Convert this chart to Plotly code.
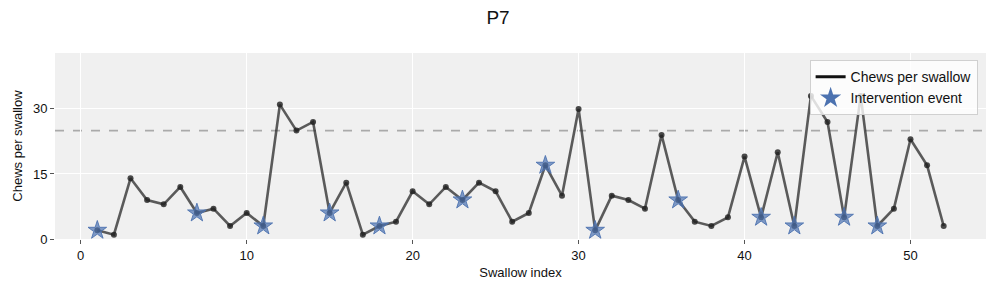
import plotly.graph_objects as go

swallow_index = list(range(1, 53))
chews = [2, 1, 14, 9, 8, 12, 6, 7, 3, 6,
         3, 31, 25, 27, 6, 13, 1, 3, 4, 11,
         8, 12, 9, 13, 11, 4, 6, 17, 10, 30,
         2, 10, 9, 7, 24, 9, 4, 3, 5, 19,
         5, 20, 3, 33, 27, 5, 33, 3, 7, 23,
         17, 3]
intervention_index = [1, 7, 11, 15, 18, 23, 28, 31, 36, 41, 43, 46, 48]
threshold = 25
x_ticks = [0, 10, 20, 30, 40, 50]
y_ticks = [0, 15, 30]

int_vals = [chews[swallow_index.index(i)] for i in intervention_index]

fig = go.Figure()
fig.add_trace(go.Scatter(
    x=swallow_index, y=chews, mode="lines",
    line=dict(color="rgba(40,40,40,0.75)", width=2.6),
    showlegend=False))
fig.add_trace(go.Scatter(
    x=swallow_index, y=chews, mode="markers",
    marker=dict(color="rgba(30,30,30,0.8)", size=6),
    showlegend=False, hoverinfo="skip"))
fig.add_trace(go.Scatter(
    x=intervention_index, y=int_vals, mode="markers",
    marker=dict(symbol="star", size=14, color="rgba(76,114,176,0.7)",
                line=dict(color="rgba(76,114,176,0.9)", width=1)),
    showlegend=False))
# legend entries (opaque, as in the reference legend)
fig.add_trace(go.Scatter(
    x=[None], y=[None], mode="lines",
    line=dict(color="#111111", width=3), name="Chews per swallow"))
fig.add_trace(go.Scatter(
    x=[None], y=[None], mode="markers",
    marker=dict(symbol="star", size=16, color="#4c72b0", line=dict(width=0)),
    name="Intervention event"))

fig.add_shape(type="line", xref="paper", x0=0, x1=1, yref="y", y0=threshold, y1=threshold,
              line=dict(color="#aaaaaa", width=1.6, dash="dash"), layer="below")

fig.update_layout(
    width=996, height=291,
    margin=dict(l=55, r=10, t=53, b=52, autoexpand=False),
    paper_bgcolor="white", plot_bgcolor="#f0f0f0",
    font=dict(family="Liberation Sans, Arial, sans-serif", size=13, color="#111"),
    title=dict(text="P7", x=0.5, xanchor="center", y=0.94, yanchor="middle",
               yref="container", font=dict(size=19, color="#111")),
    legend=dict(x=0.991, y=0.962, xanchor="right", yanchor="top",
                bgcolor="rgba(255,255,255,0.8)", bordercolor="#d0d0d0", borderwidth=1,
                font=dict(size=14), tracegroupgap=0, itemwidth=30),
    showlegend=True,
)
fig.update_xaxes(range=[-1.55, 54.55], tickvals=x_ticks, ticks="outside", ticklen=4,
                 tickcolor="#555", gridcolor="white", gridwidth=1, zeroline=False,
                 showline=False, automargin=False,
                 title=dict(text="Swallow index", standoff=6, font=dict(size=13)))
fig.update_yaxes(range=[0, 42.9], tickvals=y_ticks, ticks="outside", ticklen=4,
                 tickcolor="#555", gridcolor="white", gridwidth=1, zeroline=False,
                 showline=False, automargin=False,
                 title=dict(text="Chews per swallow", standoff=7, font=dict(size=13)))

fig.write_html("out.html", config={"displayModeBar": False},
               post_script="document.body.style.margin='0';")
